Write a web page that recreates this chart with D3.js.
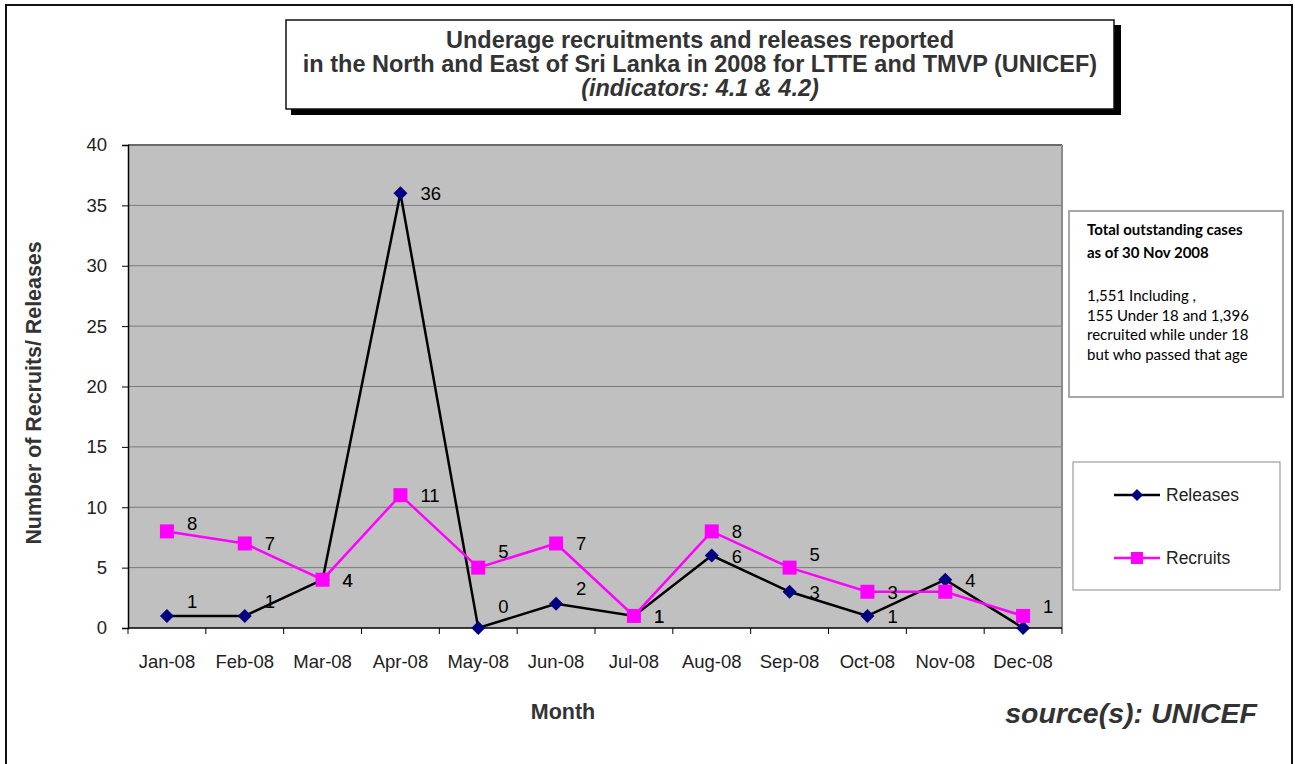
<!DOCTYPE html>
<html>
<head>
<meta charset="utf-8">
<script src="https://cdn.jsdelivr.net/npm/d3@7"></script>
<style>
	body { margin: 0; background: #fff; }
	svg { display: block; font-family: Arial, "Liberation Sans", sans-serif; }
</style>
</head>
<body>
<svg id="chart" width="1295" height="764"></svg>
<script>
var months = ["Jan-08", "Feb-08", "Mar-08", "Apr-08", "May-08", "Jun-08", "Jul-08", "Aug-08", "Sep-08", "Oct-08", "Nov-08", "Dec-08"];
var releases = [1, 1, 4, 36, 0, 2, 1, 6, 3, 1, 4, 0];
var recruits = [8, 7, 4, 11, 5, 7, 1, 8, 5, 3, 3, 1];
var yTicks = [0, 5, 10, 15, 20, 25, 30, 35, 40];
// which point labels show (Excel hid a couple of them)
var releasesShown = [1, 1, 1, 1, 1, 1, 1, 1, 1, 1, 1, 0];
var recruitsShown = [1, 1, 1, 1, 1, 1, 1, 1, 1, 1, 0, 1];
var releasesNudge = [-15, -15, 0, 0, -22, -16, 0, 0, 0, 0, 0, 0];
var recruitsNudge = [-8, 0, 0, 0, -17, 0, 0, 0, -14, 0, 0, -10];
var noteLines = ["1,551 Including ,", "155 Under 18 and 1,396", "recruited while under 18", "but who passed that age"];

var svg = d3.select("#chart");
var plot = { left: 128, top: 145, right: 1062, bottom: 628 };

// outer frame
svg.append("rect")
    .attr("x", 6).attr("y", 5)
    .attr("width", 1286).attr("height", 770)
    .attr("fill", "none")
    .attr("stroke", "#111")
    .attr("stroke-width", 2);

var x = d3.scaleBand()
    .domain(months)
    .range([plot.left, plot.right]);
var y = d3.scaleLinear()
    .domain([0, 40])
    .range([plot.bottom, plot.top]);

svg.append("rect")
    .attr("x", plot.left).attr("y", plot.top)
    .attr("width", plot.right - plot.left).attr("height", plot.bottom - plot.top)
    .attr("fill", "#c0c0c0");

svg.append("g")
    .selectAll("line")
    .data(yTicks.filter(function (d) { return d > 0 }))
  .enter()
  .append("line")
    .attr("x1", plot.left).attr("x2", plot.right)
    .attr("y1", function (d) { return y(d) }).attr("y2", function (d) { return y(d) })
    .attr("stroke", function (d) { return d === 40 ? "#6a6a6a" : "#7a7a7a" })
    .attr("stroke-width", function (d) { return d === 40 ? 2 : 1 });

svg.append("line")
    .attr("x1", plot.right).attr("x2", plot.right)
    .attr("y1", plot.top).attr("y2", plot.bottom)
    .attr("stroke", "#8a8a8a").attr("stroke-width", 2);

// y axis
var yAxis = svg.append("g")
    .attr("transform", "translate(" + plot.left + ",0)")
    .call(d3.axisLeft(y).tickValues(yTicks).tickSize(6).tickPadding(15));
yAxis.select(".domain").attr("stroke", "#000").attr("stroke-width", 1.5);
yAxis.selectAll(".tick line").attr("stroke", "#000");
yAxis.selectAll("text")
    .style("font-size", "18.5px")
    .style("font-family", "Arial, 'Liberation Sans', sans-serif")
    .attr("fill", "#222");

// x axis: ticks sit between categories
var xAxis = svg.append("g")
    .attr("transform", "translate(0," + plot.bottom + ")");
xAxis.append("line")
    .attr("x1", plot.left).attr("x2", plot.right)
    .attr("stroke", "#000").attr("stroke-width", 1.5);
xAxis.selectAll("line.tk")
    .data(months.concat(["end"]))
  .enter()
  .append("line").classed("tk", true)
    .attr("x1", function (d, i) { return plot.left + i * x.step() })
    .attr("x2", function (d, i) { return plot.left + i * x.step() })
    .attr("y1", 0).attr("y2", 6)
    .attr("stroke", "#000");
xAxis.selectAll("text")
    .data(months)
  .enter()
  .append("text")
    .attr("x", function (d) { return x(d) + x.bandwidth() / 2 })
    .attr("y", 40)
    .attr("text-anchor", "middle")
    .attr("fill", "#222")
    .style("font-size", "18.5px")
    .text(function (d) { return d });

function cx(i) { return x(months[i]) + x.bandwidth() / 2 }

var line = d3.line()
    .x(function (d, i) { return cx(i) })
    .y(function (d) { return y(d) });

// releases
svg.append("path")
    .datum(releases)
    .attr("d", line)
    .attr("fill", "none")
    .attr("stroke", "#000")
    .attr("stroke-width", 2.5);
svg.append("g")
    .selectAll("path")
    .data(releases)
  .enter()
  .append("path")
    .attr("d", "M0,-7L7,0L0,7L-7,0Z")
    .attr("transform", function (d, i) { return "translate(" + cx(i) + "," + y(d) + ")" })
    .attr("fill", "#000080");

// recruits
svg.append("path")
    .datum(recruits)
    .attr("d", line)
    .attr("fill", "none")
    .attr("stroke", "#ff00ff")
    .attr("stroke-width", 2.5);
svg.append("g")
    .selectAll("rect")
    .data(recruits)
  .enter()
  .append("rect")
    .attr("x", function (d, i) { return cx(i) - 7 })
    .attr("y", function (d) { return y(d) - 7 })
    .attr("width", 14).attr("height", 14)
    .attr("fill", "#ff00ff");

function labels(values, shown, nudge) {
	var pts = values.map(function (v, i) { return { v: v, i: i } })
	    .filter(function (p) { return shown[p.i] });
	svg.append("g")
	    .selectAll("text")
	    .data(pts)
	  .enter()
	  .append("text")
	    .attr("x", function (p) { return cx(p.i) + 20 })
	    .attr("y", function (p) { return y(p.v) + 7 + nudge[p.i] })
	    .attr("fill", "#000")
	    .style("font-size", "18.5px")
	    .text(function (p) { return p.v });
}
labels(releases, releasesShown, releasesNudge);
labels(recruits, recruitsShown, recruitsNudge);

// axis titles
svg.append("text")
    .attr("transform", "translate(41,393) rotate(-90)")
    .attr("text-anchor", "middle")
    .attr("fill", "#333")
    .style("font-size", "21.4px")
    .style("font-weight", "bold")
    .text("Number of Recruits/ Releases");
svg.append("text")
    .attr("x", 563).attr("y", 719)
    .attr("text-anchor", "middle")
    .attr("fill", "#333")
    .style("font-size", "21.5px")
    .style("font-weight", "bold")
    .text("Month");
svg.append("text")
    .attr("x", 1257).attr("y", 723)
    .attr("text-anchor", "end")
    .attr("fill", "#333")
    .style("font-size", "28.5px")
    .style("font-weight", "bold")
    .style("font-style", "italic")
    .text("source(s): UNICEF");

// title box with drop shadow
svg.append("rect")
    .attr("x", 291).attr("y", 25)
    .attr("width", 830).attr("height", 90)
    .attr("fill", "#000");
svg.append("rect")
    .attr("x", 286).attr("y", 20)
    .attr("width", 828).attr("height", 89)
    .attr("fill", "#fff")
    .attr("stroke", "#111")
    .attr("stroke-width", 1.5);
var title = svg.append("text")
    .attr("text-anchor", "middle")
    .attr("fill", "#333")
    .style("font-size", "23.5px")
    .style("font-weight", "bold");
title.append("tspan").attr("x", 700).attr("y", 48).text("Underage recruitments and releases reported");
title.append("tspan").attr("x", 700).attr("y", 72).text("in the North and East of Sri Lanka in 2008 for LTTE and TMVP (UNICEF)");
title.append("tspan").attr("x", 700).attr("y", 96).style("font-style", "italic").text("(indicators: 4.1 & 4.2)");

// note box
svg.append("rect")
    .attr("x", 1069).attr("y", 211)
    .attr("width", 214).attr("height", 186)
    .attr("fill", "#fff")
    .attr("stroke", "#a6a6a6")
    .attr("stroke-width", 2);
var note = svg.append("g")
    .style("font-family", "Lato, 'Open Sans', sans-serif")
    .style("font-size", "15px")
    .attr("fill", "#000");
note.append("text").attr("x", 1087).attr("y", 235).style("font-weight", "bold").text("Total outstanding cases");
note.append("text").attr("x", 1087).attr("y", 258).style("font-weight", "bold").text("as of 30 Nov 2008");
note.selectAll("text.body")
    .data(noteLines)
  .enter()
  .append("text").classed("body", true)
    .attr("x", 1087)
    .attr("y", function (d, i) { return 301 + i * 19.7 })
    .text(function (d) { return d });

// legend
svg.append("rect")
    .attr("x", 1073).attr("y", 462)
    .attr("width", 207).attr("height", 128)
    .attr("fill", "#fff")
    .attr("stroke", "#8a8a8a")
    .attr("stroke-width", 1);
var legendItems = [
	{ name: "Releases", color: "#000", marker: "diamond" },
	{ name: "Recruits", color: "#ff00ff", marker: "square" }
];
var legend = svg.append("g")
    .selectAll("g")
    .data(legendItems)
  .enter()
  .append("g")
    .attr("transform", function (d, i) { return "translate(1114," + (495 + i * 63) + ")" });
legend.append("line")
    .attr("x1", 0).attr("x2", 46)
    .attr("stroke", function (d) { return d.color })
    .attr("stroke-width", 2.5);
legend.each(function (d) {
	var g = d3.select(this);
	if (d.marker === "diamond") {
		g.append("path").attr("d", "M23,-6L29,0L23,6L17,0Z").attr("fill", "#000080");
	} else {
		g.append("rect").attr("x", 17).attr("y", -6).attr("width", 12).attr("height", 12).attr("fill", "#ff00ff");
	}
});
legend.append("text")
    .attr("x", 52).attr("y", 6)
    .attr("fill", "#222")
    .style("font-size", "17.5px")
    .text(function (d) { return d.name });
</script>
</body>
</html>
